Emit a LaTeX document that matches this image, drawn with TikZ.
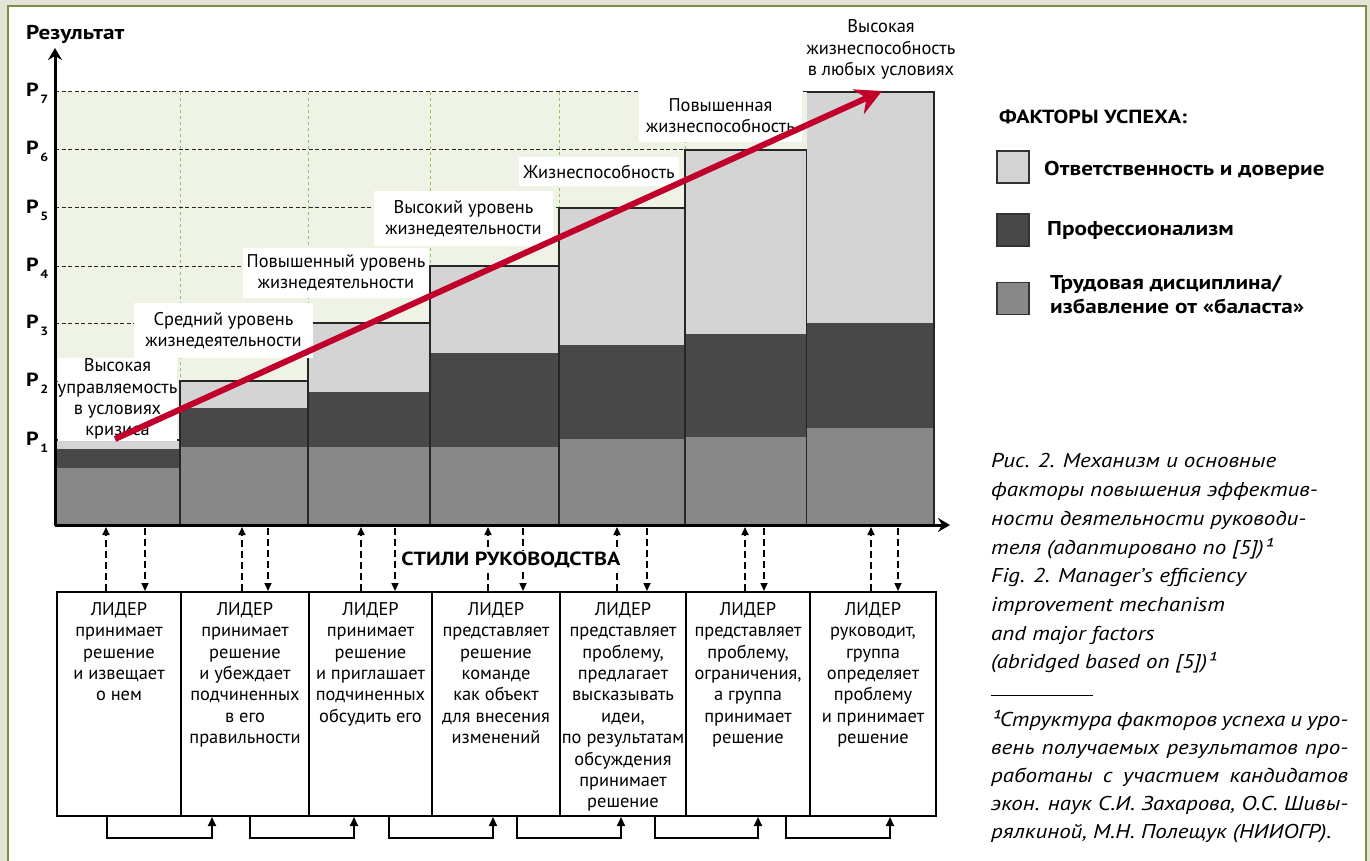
\documentclass[tikz,border=0pt]{standalone}
\usepackage{fontspec}
\setmainfont{PT Sans}
\newfontfamily\widesans[FakeStretch=1.16]{PT Sans}
\newfontfamily\wideital[FakeStretch=1.15]{PT Sans}
\usetikzlibrary{arrows.meta}

\definecolor{pagebg}{HTML}{E4E4D6}
\definecolor{framegreen}{HTML}{7D8F45}
\definecolor{plotgreen}{HTML}{EFF3E6}
\definecolor{gridgreen}{HTML}{8CC462}
\definecolor{lightbar}{HTML}{D4D4D4}
\definecolor{darkbar}{HTML}{484848}
\definecolor{midbar}{HTML}{888888}
\definecolor{trendred}{HTML}{C0002A}

\newcommand{\fsz}[2]{\fontsize{#1}{#2}\selectfont}
\newcommand{\headfont}[1]{\widesans\bfseries\fsz{#1}{#1}}

\tikzset{
  gridline/.style={gridgreen, line width=1pt, dash pattern=on 3pt off 3pt},
  levelline/.style={black!85, line width=1pt, dash pattern=on 4pt off 2.5pt},
  barline/.style={black!85, line width=1.2pt},
  axis/.style={line width=3pt, -{Stealth[length=12pt,width=14pt,inset=4pt]}},
  trend/.style={trendred, line width=6pt, -{Stealth[length=26pt,width=27pt,inset=9pt]}},
  level/.style={fill=white, inner sep=0pt, align=center, font=\fsz{18.4}{21.3}},
  plabel/.style={inner sep=0pt, anchor=base west, font=\headfont{19}},
  stylebox/.style={draw=black, line width=2pt, inner sep=0pt},
  styletext/.style={inner sep=0pt, anchor=north, align=center, font=\fsz{18.4}{21.4}},
  updash/.style={line width=1.6pt, dash pattern=on 7pt off 4pt, -{Triangle[length=8pt,width=7pt]}},
  loop/.style={line width=2pt, -{Triangle[length=9pt,width=8pt]}},
  legsq/.style={draw=black!80, line width=1.2pt, minimum width=32pt, minimum height=32pt, inner sep=0pt},
  legtext/.style={inner sep=0pt, anchor=west, align=left, font={\widesans\bfseries\fsz{20}{24}}},
  captext/.style={inner sep=0pt, anchor=north west, align=left, font={\wideital\itshape\fsz{20}{28.7}}},
}

\begin{document}
\begin{tikzpicture}[x=1pt,y=-1pt]
\useasboundingbox (0,0) rectangle (1370,861);

% page background and olive frame
\fill[pagebg] (0,0) rectangle (1370,861);
\fill[white] (8,6) rectangle (1366,870);
\draw[framegreen, line width=2.5pt] (8,880) -- (8,6) -- (1366,6) -- (1366,880);

% tinted plot field with its grid
\fill[plotgreen] (55,92) rectangle (807,525);
\foreach \gx in {180,308,430,559,685,807}
  \draw[gridline] (\gx,92) -- (\gx,520);

% dashed result levels P2..P7
\foreach \ly/\lx in {381/180,323/308,266/430,208/559,150/685,92/840}
  \draw[levelline] (55,\ly) -- (\lx,\ly);

% stacked bars: light = responsibility, dark = professionalism, mid = discipline
\foreach \xl/\xr/\t/\l/\d in {55/180/440/449/468,180/308/381/408/447,308/430/323/392/447,430/559/266/353/447,559/685/208/345/439,685/807/150/334/437}{
  \fill[lightbar] (\xl,\t) rectangle (\xr,\l);
  \fill[darkbar] (\xl,\l) rectangle (\xr,\d);
  \fill[midbar] (\xl,\d) rectangle (\xr,525);
  \draw[barline] (\xl,525) rectangle (\xr,\t);
}
\fill[lightbar] (807,92) rectangle (934,323);
\fill[darkbar] (807,323) rectangle (934,428);
\fill[midbar] (807,428) rectangle (934,525);
\draw[barline] (807,92) -- (934,92) -- (934,525);

% level captions
\node[level, minimum width=115pt, minimum height=83pt] (lv1) at (117.5,399) {Высокая\\управляемость\\в условиях\\кризиса};
\node[level, minimum width=179pt, minimum height=55pt] (lv2) at (223.5,330.5) {Средний уровень\\жизнедеятельности};
\node[level, minimum width=186pt, minimum height=50pt] (lv3) at (336,273) {Повышенный уровень\\жизнедеятельности};
\node[level, minimum width=179pt, minimum height=55pt] (lv4) at (463.5,218.5) {Высокий уровень\\жизнедеятельности};
\node[level, minimum width=160pt, minimum height=29pt] (lv5) at (599,171.5) {Жизнеспособность};
\node[level, minimum width=163pt, minimum height=52pt] (lv6) at (720.5,116) {Повышенная\\жизнеспособность};
\node[level] (lv7) at (881,49.5) {Высокая\\жизнеспособность\\в любых условиях};

% growth trend
\coordinate (tr0) at (115,439);
\coordinate (tr1) at (882,91);
\draw[trend] (tr0) -- (tr1);

% axes
\coordinate (org) at (55,525);
\coordinate (ytip) at (55,48);
\coordinate (xtip) at (950,525);
\draw[axis] (org) -- (ytip);
\draw[axis] (org) -- (xtip);
\node[inner sep=0pt, anchor=west, font=\headfont{20}] (ylab) at (26,34) {Результат};

% level marks
\foreach \n/\py in {7/97,6/155,5/213,4/271,3/328,2/386,1/445}
  \node[plabel] (p\n) at (26,\py) {P\kern1.5pt\raisebox{-7pt}{\headfont{12}\n}};

% leadership style boxes
\node[stylebox, minimum width=124pt, minimum height=224pt] (b1) at (119,704) {};
\node[stylebox, minimum width=128pt, minimum height=224pt] (b2) at (245,704) {};
\node[stylebox, minimum width=123pt, minimum height=224pt] (b3) at (370.5,704) {};
\node[stylebox, minimum width=128pt, minimum height=224pt] (b4) at (496,704) {};
\node[stylebox, minimum width=126pt, minimum height=224pt] (b5) at (623,704) {};
\node[stylebox, minimum width=124pt, minimum height=224pt] (b6) at (748,704) {};
\node[stylebox, minimum width=126pt, minimum height=224pt] (b7) at (873,704) {};

\node[styletext] (t1) at (119,602) {ЛИДЕР\\принимает\\решение\\и извещает\\о нем};
\node[styletext] (t2) at (245,602) {ЛИДЕР\\принимает\\решение\\и убеждает\\подчиненных\\в его\\правильности};
\node[styletext] (t3) at (370.5,602) {ЛИДЕР\\принимает\\решение\\и приглашает\\подчиненных\\обсудить его};
\node[styletext] (t4) at (496,602) {ЛИДЕР\\представляет\\решение\\команде\\как объект\\для внесения\\изменений};
\node[styletext] (t5) at (623,602) {ЛИДЕР\\представляет\\проблему,\\предлагает\\высказывать\\идеи,\\по результатам\\обсуждения\\принимает\\решение};
\node[styletext] (t6) at (748,602) {ЛИДЕР\\представляет\\проблему,\\ограничения,\\а группа\\принимает\\решение};
\node[styletext] (t7) at (873,602) {ЛИДЕР\\руководит,\\группа\\определяет\\проблему\\и принимает\\решение};

% feedback between styles and results
\foreach \k/\ux/\dx in {1/106/145,2/242/268,3/361/395,4/488/523,5/617/647,6/745/764,7/871/898}{
  \coordinate (u\k) at (\ux,527);
  \coordinate (d\k) at (\dx,528);
  \draw[updash] (b\k.north -| u\k) -- (u\k);
  \draw[updash] (d\k) -- (b\k.north -| d\k);
}
\node[fill=white, inner sep=1pt, font=\headfont{19}] (styles) at (511,560) {СТИЛИ РУКОВОДСТВА};

% transitions from one style to the next
\foreach \k/\m/\sx/\ex in {1/2/107/212,2/3/250/354,3/4/389/493,4/5/517/621,5/6/655/758,6/7/786/890}{
  \coordinate (s\k) at (\sx,838);
  \coordinate (e\k) at (\ex,838);
  \draw[loop] (b\k.south -| s\k) -- (s\k) -- (e\k) -- (b\m.south -| e\k);
}

% legend
\node[inner sep=0pt, anchor=west, font=\headfont{19}] (legtitle) at (999,117) {ФАКТОРЫ УСПЕХА:};
\node[legsq, fill=lightbar] (sq1) at (1013,167) {};
\node[legsq, fill=darkbar] (sq2) at (1013,230) {};
\node[legsq, fill=midbar] (sq3) at (1013,298.5) {};
\node[legtext] (lg1) at (1044,170) {Ответственность и доверие};
\node[legtext] (lg2) at (1047,230) {Профессионализм};
\node[legtext] (lg3) at (1050,295) {Трудовая дисциплина/\\избавление от «баласта»};

% figure caption and footnote
\node[captext] (cap) at (991,453.5) {Рис. 2. Механизм и основные\\факторы повышения эффектив-\\ности деятельности руководи-\\теля (адаптировано по [5])¹\\Fig. 2. Manager’s efficiency\\improvement mechanism\\and major factors\\(abridged based on [5])¹};
\coordinate (rule0) at (991,695);
\coordinate (rule1) at (1093,695);
\draw[line width=1pt] (rule0) -- (rule1);
\node[captext, font={\wideital\itshape\fsz{20}{28}}] (note) at (991,710) {\makebox[357pt][s]{¹Структура факторов успеха и уро-}\\\makebox[357pt][s]{вень получаемых результатов про-}\\\makebox[357pt][s]{работаны с участием кандидатов}\\\makebox[357pt][s]{экон. наук С.И. Захарова, О.С. Шивы-}\\рялкиной, М.Н. Полещук (НИИОГР).};
\end{tikzpicture}
\end{document}
